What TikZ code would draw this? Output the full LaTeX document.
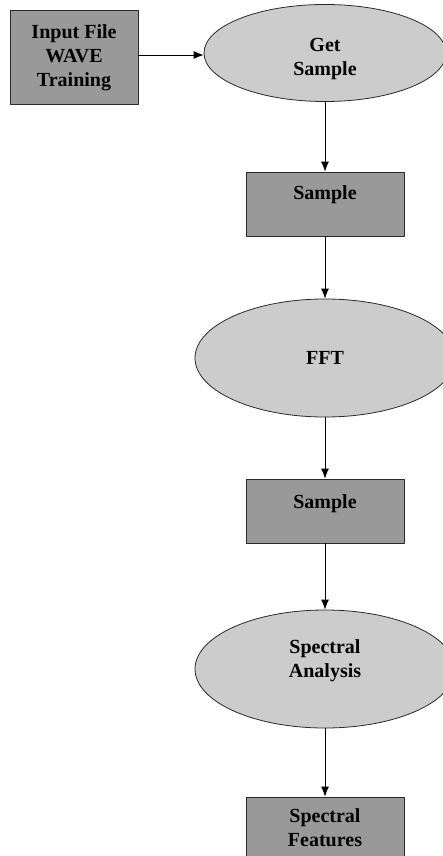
\documentclass[tikz,border=0pt]{standalone}
\usepackage{fontspec}
\setmainfont{Liberation Serif}
\usetikzlibrary{arrows.meta,shapes.geometric}
\definecolor{boxgray}{HTML}{999999}
\definecolor{ovalgray}{HTML}{CCCCCC}
\definecolor{edgegray}{HTML}{2A2A2A}
% text block raised inside its shape, size kept
\newcommand{\lifttext}[2]{\raisebox{#1}[\height][\depth]{\begin{tabular}{@{}c@{}}#2\end{tabular}}}
\begin{document}
\begin{tikzpicture}[x=1pt, y=-1pt, font=\fontsize{20}{24}\selectfont\bfseries, line join=round, line width=0.8pt, >={Latex[length=10pt,width=8pt]},
	stepbox/.style={draw=edgegray, fill=boxgray, rectangle, minimum width=158pt, minimum height=64pt, inner sep=0pt},
	oval/.style={draw=edgegray, fill=ovalgray, ellipse, minimum width=260pt, minimum height=118pt, inner sep=0pt}]
	\useasboundingbox (0,0) rectangle (443,856);
	\clip (0,0) rectangle (443,856);

	\node[stepbox, minimum width=128pt, minimum height=94pt] (input) at (74,57) {\lifttext{-1pt}{Input File\\WAVE\\Training}};
	\node[oval, minimum width=242pt, minimum height=97pt] (get) at (325,53) {\lifttext{-6pt}{Get\\Sample}};
	\node[stepbox] (samp1) at (325,204) {\lifttext{9pt}{Sample}};
	\node[oval] (fft) at (325,358) {FFT};
	\node[stepbox] (samp2) at (325,511) {\lifttext{7pt}{Sample}};
	\node[oval] (spec) at (325,669) {\lifttext{8pt}{Spectral\\Analysis}};
	\node[stepbox] (feat) at (325,829) {\lifttext{-1pt}{Spectral\\Features}};

	\draw[->] ([yshift=2pt]input.east) -- ([yshift=2pt]input.east -| get.west);
	\draw[->] (get.south) -- (samp1.north);
	\draw[->] (samp1.south) -- (fft.north);
	\draw[->] (fft.south) -- (samp2.north);
	\draw[->] (samp2.south) -- (spec.north);
	\draw[->] (spec.south) -- (feat.north);
\end{tikzpicture}
\end{document}
